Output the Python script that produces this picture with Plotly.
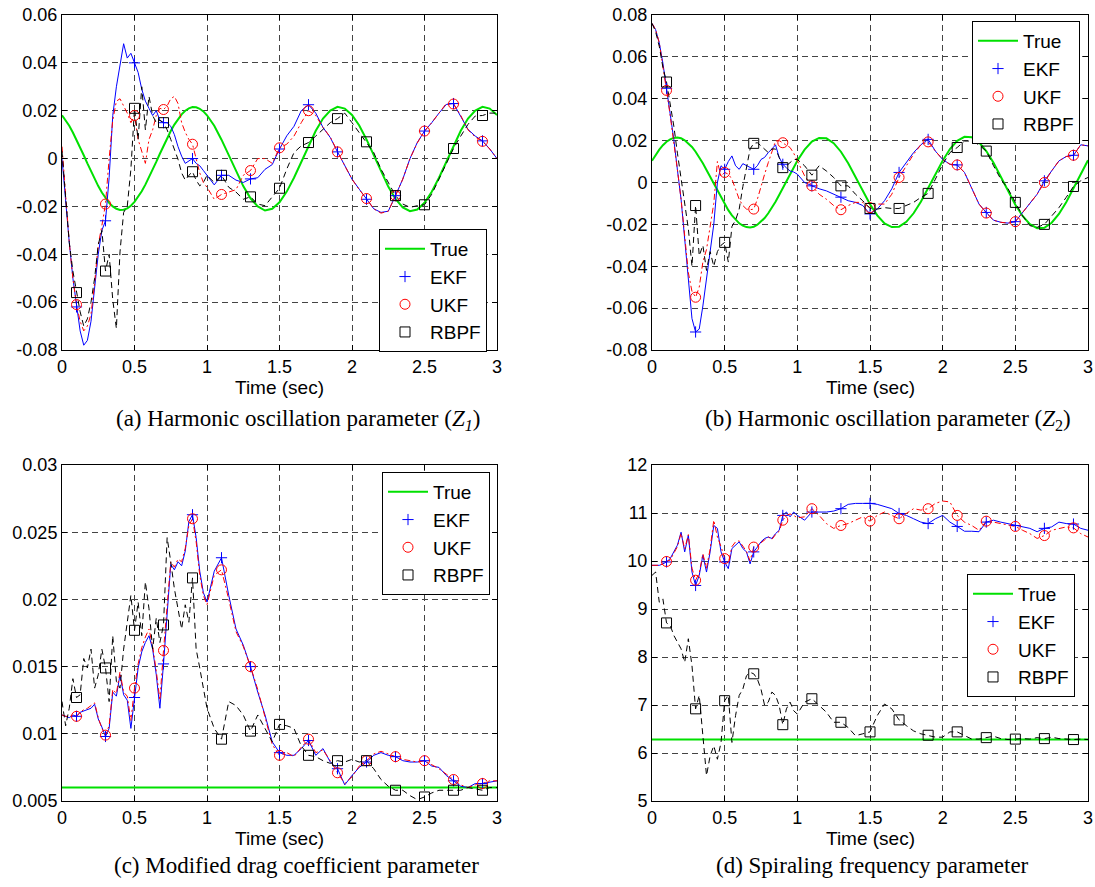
import plotly.graph_objects as go

# ---------------- time base (sec) ----------------
T = [0.0, 0.025, 0.05, 0.075, 0.1, 0.125, 0.15, 0.175, 0.2, 0.225, 0.25, 0.275, 0.3, 0.325, 0.35, 0.375,
     0.4, 0.425, 0.45, 0.475, 0.5, 0.525, 0.55, 0.575, 0.6, 0.625, 0.65, 0.675, 0.7, 0.725, 0.75, 0.775,
     0.8, 0.825, 0.85, 0.875, 0.9, 0.925, 0.95, 0.975, 1.0,
     1.05, 1.1, 1.15, 1.2, 1.25, 1.3, 1.35, 1.4, 1.45, 1.5, 1.55, 1.6, 1.65, 1.7, 1.75, 1.8, 1.85, 1.9, 1.95, 2.0,
     2.05, 2.1, 2.15, 2.2, 2.25, 2.3, 2.35, 2.4, 2.45, 2.5, 2.55, 2.6, 2.65, 2.7, 2.75, 2.8, 2.85, 2.9, 2.95, 3.0]
T_ENDS = [0.0, 3.0]
MARK_T = [0.1, 0.3, 0.5, 0.7, 0.9, 1.1, 1.3, 1.5, 1.7, 1.9, 2.1, 2.3, 2.5, 2.7, 2.9]

# ---------------- (a) Z1 ----------------
A_TRUE = [0.0181, 0.0161, 0.0137, 0.0109, 0.0079, 0.0047, 0.0014, -0.0020, -0.0054, -0.0085, -0.0115, -0.0142,
          -0.0166, -0.0185, -0.0200, -0.0210, -0.0215, -0.0214, -0.0208, -0.0197, -0.0181, -0.0161, -0.0137,
          -0.0109, -0.0079, -0.0047, -0.0014, 0.0020, 0.0054, 0.0085, 0.0115, 0.0142, 0.0166, 0.0185, 0.0200,
          0.0210, 0.0215, 0.0214, 0.0208, 0.0197, 0.0181,
          0.0137, 0.0079, 0.0014, -0.0054, -0.0115, -0.0166, -0.0200, -0.0217, -0.0210, -0.0183,
          -0.0138, -0.0080, -0.0014, 0.0054, 0.0116, 0.0167, 0.0201, 0.0216, 0.0209, 0.0182,
          0.0138, 0.0080, 0.0014, -0.0055, -0.0117, -0.0169, -0.0204, -0.0220, -0.0213, -0.0185,
          -0.0139, -0.0080, -0.0014, 0.0054, 0.0116, 0.0167, 0.0201, 0.0216, 0.0209, 0.0182]
A_EKF = [0.0, -0.018, -0.035, -0.050, -0.062, -0.072, -0.078, -0.076, -0.068, -0.055, -0.040, -0.030, -0.026,
         -0.008, 0.018, 0.030, 0.040, 0.048, 0.042, 0.044, 0.040, 0.036, 0.029, 0.024, 0.021, 0.018, 0.020,
         0.016, 0.015, 0.015, 0.0135, 0.010, 0.005, 0.001, -0.002, -0.001, 0.0, -0.002, -0.003, -0.005, -0.007,
         -0.011, -0.007, -0.007, -0.009, -0.010, -0.0085, -0.008, -0.0045, -0.0025, 0.004,
         0.0095, 0.0135, 0.020, 0.0225, 0.019, 0.013, 0.0088, 0.0028, -0.003, -0.0086,
         -0.0128, -0.017, -0.021, -0.0225, -0.022, -0.0155, -0.0086, 0.0, 0.0067, 0.0115,
         0.015, 0.019, 0.0226, 0.023, 0.0178, 0.0122, 0.0094, 0.0074, 0.004, 0.0]
A_UKF = [0.005, -0.015, -0.035, -0.050, -0.061, -0.068, -0.072, -0.070, -0.065, -0.052, -0.036, -0.028, -0.019,
         0.000, 0.016, 0.024, 0.025, 0.022, 0.019, 0.015, 0.018, 0.008, 0.003, -0.002, 0.008, 0.012, 0.018,
         0.021, 0.0205, 0.022, 0.025, 0.026, 0.023, 0.015, 0.011, 0.008, 0.006, 0.000, -0.006, -0.010, -0.012,
         -0.017, -0.015, -0.014, -0.013, -0.007, -0.005, 0.0, 0.0, -0.002, 0.0045,
         0.006, 0.0094, 0.015, 0.020, 0.018, 0.013, 0.009, 0.0028, -0.003, -0.0086,
         -0.013, -0.0167, -0.021, -0.0228, -0.022, -0.0155, -0.0086, 0.0, 0.0065, 0.0115,
         0.015, 0.019, 0.023, 0.0228, 0.018, 0.012, 0.009, 0.0072, 0.004, 0.0]
A_RBPF = [0.003, -0.015, -0.035, -0.047, -0.056, -0.064, -0.070, -0.067, -0.060, -0.050, -0.036, -0.030, -0.047,
          -0.040, -0.059, -0.071, -0.039, -0.0225, -0.020, -0.0045, 0.021, 0.008, 0.030, 0.012, 0.026, 0.018,
          0.015, 0.016, 0.015, 0.012, 0.008, 0.004, -0.0003, -0.006, -0.009, -0.007, -0.0055, -0.009, -0.0114,
          -0.010, -0.007,
          -0.010, -0.007, -0.012, -0.014, -0.017, -0.016, -0.019, -0.0197, -0.016, -0.0124,
          -0.0044, 0.0025, 0.0053, 0.0067, 0.0094, 0.012, 0.015, 0.0167, 0.019, 0.015,
          0.011, 0.007, 0.0025, -0.0044, -0.010, -0.0155, -0.019, -0.0204, -0.0197, -0.0193,
          -0.0149, -0.0086, -0.0017, 0.0042, 0.0094, 0.0143, 0.0178, 0.018, 0.019, 0.019]

# ---------------- (b) Z2 ----------------
B_TRUE = [0.0104, 0.0132, 0.0157, 0.0178, 0.0195, 0.0206, 0.0213, 0.0215, 0.0211, 0.0202, 0.0188, 0.0170,
          0.0147, 0.0121, 0.0092, 0.0060, 0.0027, -0.0007, -0.0040, -0.0073, -0.0104, -0.0132, -0.0157,
          -0.0178, -0.0195, -0.0206, -0.0213, -0.0215, -0.0211, -0.0202, -0.0188, -0.0170, -0.0147, -0.0121,
          -0.0092, -0.0060, -0.0027, 0.0007, 0.0040, 0.0073, 0.0104,
          0.0157, 0.0195, 0.0213, 0.0211, 0.0188, 0.0147, 0.0092, 0.0027, -0.0040, -0.0104,
          -0.0157, -0.0195, -0.0213, -0.0211, -0.0188, -0.0147, -0.0092, -0.0027, 0.0040, 0.0104,
          0.0160, 0.0199, 0.0218, 0.0216, 0.0192, 0.0150, 0.0094, 0.0028, -0.0041, -0.0106,
          -0.0160, -0.0199, -0.0218, -0.0216, -0.0192, -0.0150, -0.0094, -0.0028, 0.0041, 0.0106]
B_EKF = [0.076, 0.073, 0.0667, 0.057, 0.045, 0.033, 0.0206, 0.006, -0.008, -0.027, -0.046, -0.065, -0.0714,
         -0.070, -0.059, -0.047, -0.033, -0.020, 0.000, 0.008, 0.0063, 0.010, 0.0127, 0.008, 0.0063, 0.009,
         0.008, 0.007, 0.0063, 0.008, 0.011, 0.012, 0.0143, 0.016, 0.018, 0.012, 0.0087, 0.007, 0.0055, 0.005,
         0.004,
         0.0, -0.0016, -0.003, -0.004, -0.0056, -0.007, -0.0087, -0.0095, -0.011, -0.015,
         -0.0127, -0.0087, -0.003, 0.0048, 0.0095, 0.0143, 0.018, 0.0206, 0.015, 0.011,
         0.0087, 0.0084, 0.0048, -0.003, -0.0103, -0.0143, -0.018, -0.019, -0.0194, -0.0187,
         -0.0143, -0.0095, -0.0056, 0.0008, 0.0056, 0.0103, 0.0124, 0.013, 0.018, 0.0175]
B_UKF = [0.076, 0.073, 0.0667, 0.056, 0.044, 0.032, 0.020, 0.006, -0.008, -0.026, -0.043, -0.052, -0.0548,
         -0.050, -0.038, -0.032, -0.022, -0.010, 0.010, 0.003, 0.0048, 0.004, 0.0016, -0.003, -0.008, -0.011,
         -0.0127, -0.013, -0.0127, -0.008, -0.0016, 0.004, 0.0095, 0.015, 0.0198, 0.020, 0.019, 0.018, 0.0167,
         0.014, 0.0103,
         0.0032, -0.0016, -0.0056, -0.008, -0.011, -0.013, -0.011, -0.0095, -0.0095, -0.012,
         -0.0103, -0.0103, -0.0056, 0.0024, 0.008, 0.0135, 0.018, 0.0194, 0.015, 0.011,
         0.0087, 0.0084, 0.0048, -0.003, -0.0103, -0.0146, -0.018, -0.019, -0.0194, -0.0187,
         -0.0143, -0.0095, -0.0056, 0.0, 0.0056, 0.0103, 0.0124, 0.013, 0.018, 0.0175]
B_RBPF = [0.076, 0.072, 0.065, 0.055, 0.048, 0.038, 0.027, 0.014, 0.0016, -0.010, -0.022, -0.040, -0.011,
          -0.035, -0.030, -0.042, -0.033, -0.040, -0.033, -0.030, -0.0286, -0.038, -0.021, -0.018, -0.0127,
          -0.002, 0.0063, 0.016, 0.0187, 0.019, 0.0175, 0.016, 0.0143, 0.016, 0.016, 0.012, 0.0071, 0.008,
          0.0095, 0.011, 0.011,
          0.008, 0.0035, 0.008, 0.0055, 0.0024, -0.0016, -0.0016, -0.0056, -0.0087, -0.0124,
          -0.0127, -0.012, -0.0124, -0.0124, -0.011, -0.0095, -0.0071, -0.0052, 0.0016, 0.0087,
          0.0143, 0.0167, 0.0198, 0.0198, 0.018, 0.015, 0.008, 0.0016, -0.003, -0.0095,
          -0.0159, -0.0206, -0.0214, -0.020, -0.0159, -0.012, -0.0071, -0.0019, 0.0008, 0.0024]

# ---------------- (c) drag coefficient ----------------
C_TRUE = [0.006, 0.006]
C_EKF = [0.0114, 0.0113, 0.0112, 0.0114, 0.0113, 0.0116, 0.0117, 0.0118, 0.0119, 0.0122, 0.0111, 0.0105, 0.0098,
         0.0104, 0.0131, 0.0128, 0.0144, 0.0129, 0.0125, 0.0104, 0.0127, 0.0149, 0.0161, 0.0168, 0.0173, 0.0163,
         0.0144, 0.0119, 0.0152, 0.0191, 0.0226, 0.0222, 0.0228, 0.0225, 0.0236, 0.0258, 0.0263, 0.0246, 0.0221,
         0.0205, 0.0198,
         0.0221, 0.0231, 0.0203, 0.0178, 0.0166, 0.015, 0.0131, 0.0114, 0.0094, 0.0086,
         0.0084, 0.0084, 0.0089, 0.0095, 0.0084, 0.0089, 0.0079, 0.0074, 0.0062, 0.0069,
         0.0075, 0.0079, 0.0084, 0.0086, 0.0084, 0.0083, 0.008, 0.0079, 0.0079, 0.008,
         0.0076, 0.0075, 0.0069, 0.0065, 0.0061, 0.006, 0.0063, 0.0063, 0.0064, 0.0065]
C_UKF = [0.0114, 0.0113, 0.0113, 0.0114, 0.0113, 0.0116, 0.0118, 0.0119, 0.0121, 0.0123, 0.0112, 0.0104, 0.0099,
         0.0106, 0.0133, 0.0130, 0.0146, 0.0131, 0.0128, 0.0110, 0.0134, 0.0152, 0.0164, 0.0172, 0.0178, 0.0165,
         0.0147, 0.0125, 0.0162, 0.0195, 0.0228, 0.0224, 0.0230, 0.0228, 0.0238, 0.0255, 0.0260, 0.0243, 0.0218,
         0.0203, 0.0196,
         0.0218, 0.0222, 0.0200, 0.0176, 0.0165, 0.0150, 0.0133, 0.0112, 0.0092, 0.0084,
         0.0086, 0.0083, 0.0090, 0.0096, 0.0086, 0.0088, 0.0080, 0.0071, 0.0063, 0.0068,
         0.0076, 0.0080, 0.0085, 0.0087, 0.0085, 0.0083, 0.0081, 0.0080, 0.0079, 0.0080,
         0.0077, 0.0074, 0.0070, 0.0066, 0.0062, 0.0060, 0.0062, 0.0063, 0.0065, 0.0065]
C_RBPF = [0.0124, 0.0106, 0.0119, 0.0141, 0.0127, 0.0129, 0.0156, 0.0149, 0.0163, 0.0134, 0.0144, 0.0163, 0.0149,
          0.0124, 0.0173, 0.0139, 0.0134, 0.0163, 0.0183, 0.0203, 0.0177, 0.0198, 0.0173, 0.0213, 0.0193, 0.0163,
          0.0186, 0.0168, 0.0181, 0.0246, 0.0228, 0.0208, 0.0193, 0.0178, 0.0196, 0.0183, 0.0216, 0.0163, 0.0149,
          0.0134, 0.0119,
          0.0104, 0.0096, 0.0124, 0.0121, 0.0114, 0.0102, 0.0114, 0.0104, 0.0094, 0.0107,
          0.0106, 0.0104, 0.0091, 0.0084, 0.0083, 0.008, 0.0078, 0.008, 0.0079, 0.0081,
          0.0079, 0.008, 0.0074, 0.0066, 0.0061, 0.0058, 0.0058, 0.0054, 0.0051, 0.0053,
          0.0056, 0.0058, 0.0058, 0.0058, 0.0058, 0.006, 0.0059, 0.0058, 0.006, 0.006]

# ---------------- (d) spiraling frequency ----------------
D_TRUE = [6.283, 6.283]
D_EKF = [9.91, 9.91, 9.91, 9.94, 9.98, 10.05, 10.19, 10.33, 10.6, 10.19, 10.54, 9.77, 9.49, 9.7, 10.12, 9.77,
         10.19, 10.74, 10.68, 10.19, 9.98, 9.84, 10.26, 10.33, 10.4, 10.26, 10.19, 9.94, 10.19, 10.29, 10.4,
         10.47, 10.5, 10.47, 10.57, 10.64, 10.95, 11.02, 10.92, 11.02, 10.95,
         10.85, 11.02, 11.02, 11.02, 11.04, 11.09, 11.18, 11.2, 11.2, 11.2,
         11.18, 11.14, 11.09, 10.99, 10.95, 10.88, 10.81, 10.78, 10.88, 10.95,
         10.81, 10.72, 10.62, 10.62, 10.61, 10.81, 10.85, 10.81, 10.78, 10.74,
         10.71, 10.68, 10.61, 10.68, 10.71, 10.81, 10.78, 10.77, 10.68, 10.64]
D_UKF = [9.91, 9.91, 9.91, 9.94, 9.99, 10.02, 10.15, 10.3, 10.58, 10.25, 10.55, 9.85, 9.6, 9.75, 10.15, 9.85,
         10.25, 10.85, 10.5, 10.3, 10.05, 9.95, 10.3, 10.4, 10.42, 10.3, 10.2, 10.0, 10.29, 10.32, 10.38, 10.45,
         10.5, 10.45, 10.55, 10.62, 10.85, 10.95, 10.98, 10.95, 10.9,
         10.92, 11.09, 10.95, 10.78, 10.68, 10.74, 10.78, 10.85, 10.92, 10.83,
         10.95, 11.02, 10.95, 10.88, 10.99, 11.09, 11.06, 11.09, 11.2, 11.25,
         11.23, 10.95, 10.81, 10.74, 10.64, 10.83, 10.81, 10.78, 10.74, 10.72,
         10.64, 10.57, 10.47, 10.53, 10.64, 10.68, 10.71, 10.69, 10.57, 10.5]
D_RBPF = [9.7, 9.77, 9.14, 9.21, 8.71, 8.66, 8.45, 8.31, 8.17, 7.89, 8.38, 7.82, 6.92, 7.2, 6.43, 5.53, 5.94,
          6.15, 5.87, 6.22, 7.09, 7.2, 6.22, 6.78, 7.2, 7.33, 7.61, 7.68, 7.65, 7.54, 7.33, 6.99, 7.06, 7.27, 7.2,
          6.99, 6.59, 6.92, 7.06, 6.88, 6.81,
          7.06, 7.13, 6.99, 6.85, 6.64, 6.64, 6.53, 6.36, 6.4, 6.44,
          6.78, 7.02, 6.92, 6.69, 6.57, 6.46, 6.4, 6.37, 6.33, 6.33,
          6.44, 6.44, 6.36, 6.29, 6.29, 6.32, 6.35, 6.3, 6.28, 6.29,
          6.3, 6.29, 6.32, 6.3, 6.33, 6.3, 6.29, 6.28, 6.29, 6.28]

# ---------------- ticks & texts ----------------
X_TICKS = [0, 0.5, 1, 1.5, 2, 2.5, 3]
X_LABELS = ['0', '0.5', '1', '1.5', '2', '2.5', '3']
A_YTICKS = [-0.08, -0.06, -0.04, -0.02, 0, 0.02, 0.04, 0.06]
A_YLABELS = ['-0.08', '-0.06', '-0.04', '-0.02', '0', '0.02', '0.04', '0.06']
B_YTICKS = [-0.08, -0.06, -0.04, -0.02, 0, 0.02, 0.04, 0.06, 0.08]
B_YLABELS = ['-0.08', '-0.06', '-0.04', '-0.02', '0', '0.02', '0.04', '0.06', '0.08']
C_YTICKS = [0.005, 0.01, 0.015, 0.02, 0.025, 0.03]
C_YLABELS = ['0.005', '0.01', '0.015', '0.02', '0.025', '0.03']
D_YTICKS = [5, 6, 7, 8, 9, 10, 11, 12]
D_YLABELS = ['5', '6', '7', '8', '9', '10', '11', '12']
CAPTIONS = ['(a) Harmonic oscillation parameter (<i>Z<sub>1</sub></i>)',
            '(b) Harmonic oscillation parameter (<i>Z</i><sub>2</sub>)',
            '(c) Modified drag coefficient parameter',
            '(d) Spiraling frequency parameter']
XLABEL = 'Time (sec)'
NAMES = ['True', 'EKF', 'UKF', 'RBPF']

for arr in [A_TRUE, A_EKF, A_UKF, A_RBPF, B_TRUE, B_EKF, B_UKF, B_RBPF, C_EKF, C_UKF, C_RBPF, D_EKF, D_UKF, D_RBPF]:
    assert len(arr) == len(T), len(arr)

W, H = 1095, 887
SANS = 'Liberation Sans, Arial, sans-serif'
SERIF = 'Liberation Serif, Times New Roman, serif'
GREEN = '#00e000'

# pixel boxes of the four plot areas: (left, right, top, bottom)
BOXES = [(62, 497, 15, 350), (652, 1088, 15, 350), (62, 497, 465, 801), (652, 1088, 465, 801)]
LEGEND_POS = [(379, 229), (972, 21), (382, 472), (967, 574)]
CAPTION_POS = [(298, 420), (888, 420), (296, 865), (872, 865)]

panels = [
    (T, A_TRUE, A_EKF, A_UKF, A_RBPF, [-0.08, 0.06], A_YTICKS, A_YLABELS),
    (T, B_TRUE, B_EKF, B_UKF, B_RBPF, [-0.08, 0.08], B_YTICKS, B_YLABELS),
    (T_ENDS, C_TRUE, C_EKF, C_UKF, C_RBPF, [0.005, 0.03], C_YTICKS, C_YLABELS),
    (T_ENDS, D_TRUE, D_EKF, D_UKF, D_RBPF, [5, 12], D_YTICKS, D_YLABELS),
]

mark_idx = [min(range(len(T)), key=lambda i: abs(T[i] - m)) for m in MARK_T]

fig = go.Figure()
layout = dict(width=W, height=H, margin=dict(l=0, r=0, t=0, b=0, pad=0, autoexpand=False), autosize=False,
              paper_bgcolor='white', plot_bgcolor='white', annotations=[])

for k, (tt, tru, ekf, ukf, rbpf, yr, ytv, ytt) in enumerate(panels):
    n = '' if k == 0 else str(k + 1)
    xa, ya, leg = 'x' + n, 'y' + n, 'legend' + n
    common = dict(xaxis=xa, yaxis=ya, legend=leg)
    fig.add_trace(go.Scatter(x=tt, y=tru, mode='lines', name=NAMES[0],
                             line=dict(color=GREEN, width=2), **common))
    fig.add_trace(go.Scatter(x=T, y=ekf, mode='lines', showlegend=False,
                             line=dict(color='#0000ff', width=1), **common))
    fig.add_trace(go.Scatter(x=T, y=ukf, mode='lines', showlegend=False,
                             line=dict(color='#ff0000', width=1, dash='6px,3px,2px,3px'), **common))
    fig.add_trace(go.Scatter(x=T, y=rbpf, mode='lines', showlegend=False,
                             line=dict(color='#000000', width=1, dash='6px,4px'), **common))
    fig.add_trace(go.Scatter(x=[T[i] for i in mark_idx], y=[ekf[i] for i in mark_idx], mode='markers',
                             name=NAMES[1],
                             marker=dict(symbol='cross-thin-open', size=8, color='#0000ff',
                                         line=dict(color='#0000ff', width=1)), **common))
    fig.add_trace(go.Scatter(x=[T[i] for i in mark_idx], y=[ukf[i] for i in mark_idx], mode='markers',
                             name=NAMES[2],
                             marker=dict(symbol='circle-open', size=10, color='#ff0000',
                                         line=dict(color='#ff0000', width=1)), **common))
    fig.add_trace(go.Scatter(x=[T[i] for i in mark_idx], y=[rbpf[i] for i in mark_idx], mode='markers',
                             name=NAMES[3],
                             marker=dict(symbol='square-open', size=10, color='#000000',
                                         line=dict(color='#000000', width=1)), **common))

    l, r, t, b = BOXES[k]
    axcommon = dict(showline=True, linecolor='black', linewidth=1, mirror='allticks', ticks='inside',
                    ticklen=5, tickcolor='black', showgrid=True, gridcolor='#444444', gridwidth=1,
                    griddash='6px,4px', zeroline=False, automargin=False,
                    tickfont=dict(family=SANS, size=18, color='black'))
    layout['xaxis' + n] = dict(domain=[l / W, r / W], anchor=ya, range=[0, 3], tickmode='array',
                               tickvals=X_TICKS, ticktext=X_LABELS, **axcommon)
    layout['yaxis' + n] = dict(domain=[1 - b / H, 1 - t / H], anchor=xa, range=yr, tickmode='array',
                               tickvals=ytv, ticktext=ytt, **axcommon)
    lx, ly = LEGEND_POS[k]
    layout[leg] = dict(x=lx / W, y=1 - ly / H, xanchor='left', yanchor='top', xref='paper', yref='paper',
                       bgcolor='white', bordercolor='black', borderwidth=1, itemwidth=40,
                       font=dict(family=SANS, size=19, color='black'), tracegroupgap=0)
    layout['annotations'].append(dict(text=XLABEL, x=(l + r) / 2 / W, y=1 - (b + 37) / H, xref='paper',
                                      yref='paper', showarrow=False, xanchor='center', yanchor='middle',
                                      font=dict(family=SANS, size=19, color='black')))
    cx, cy = CAPTION_POS[k]
    layout['annotations'].append(dict(text=CAPTIONS[k], x=cx / W, y=1 - cy / H, xref='paper', yref='paper',
                                      showarrow=False, xanchor='center', yanchor='middle',
                                      font=dict(family=SERIF, size=23, color='black')))

fig.update_layout(**layout)
fig.write_html('out.html', config={'displayModeBar': False},
               post_script="document.body.style.margin='0px';document.body.style.overflow='hidden';")
